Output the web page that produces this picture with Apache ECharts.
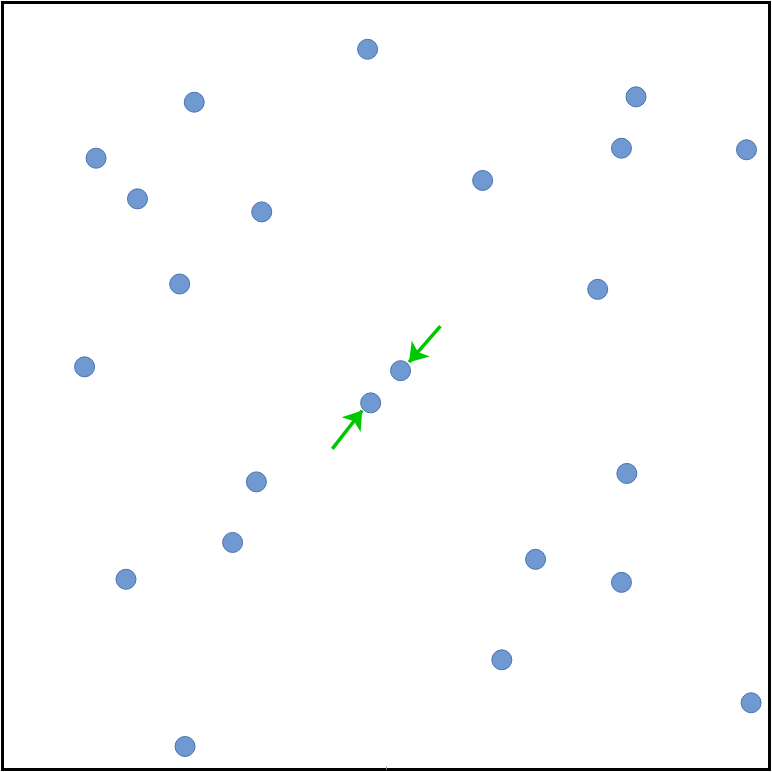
<!DOCTYPE html>
<html>
<head>
<meta charset="utf-8">
<style>html,body{margin:0;padding:0;background:#fff;}#c{width:772px;height:772px;}</style>
<script src="https://cdn.jsdelivr.net/npm/echarts@6/dist/echarts.min.js"></script>
</head>
<body>
<div id="c"></div>
<script>
// point coordinates in unit square (x right, y up)
const xs = [0.476,0.250,0.826,0.122,0.807,0.970,0.626,0.176,0.338,0.231,0.776,0.107,0.519,0.480,0.814,0.331,0.300,0.695,0.161,0.807,0.651,0.976,0.238];
const ys = [0.939,0.870,0.877,0.797,0.810,0.808,0.768,0.744,0.727,0.633,0.626,0.525,0.520,0.478,0.386,0.375,0.296,0.274,0.248,0.244,0.143,0.087,0.030];
// arrows: [startX, startY, endX, endY]
const arrowA = [0.571, 0.578, 0.530, 0.531];
const arrowB = [0.430, 0.418, 0.469, 0.468];

const chart = echarts.init(document.getElementById('c'));
chart.setOption({
  animation: false,
  grid: {left: 2.5, top: 2.5, width: 767, height: 767, show: true, borderColor: '#000', borderWidth: 3, backgroundColor: '#fff'},
  xAxis: {type: 'value', min: 0, max: 1, interval: 0.5, splitLine: {show: false}, axisLine: {show: false},
          axisLabel: {show: false}, axisTick: {show: true, customValues: [0.5], inside: true, length: 3, lineStyle: {color: '#999', width: 1}}},
  yAxis: {type: 'value', min: 0, max: 1, splitLine: {show: false}, axisLine: {show: false}, axisLabel: {show: false}, axisTick: {show: false}},
  series: [
    {
      type: 'scatter',
      symbolSize: 20,
      itemStyle: {color: '#6f99d0', borderColor: '#4a72ae', borderWidth: 1, opacity: 1},
      data: xs.map((x, i) => [x, ys[i]])
    },
    {
      type: 'lines',
      coordinateSystem: 'cartesian2d',
      symbol: ['none', 'arrow'],
      symbolSize: 18,
      lineStyle: {color: '#00c800', width: 3.5, opacity: 1},
      data: [arrowA, arrowB].map(a => ({coords: [[a[0], a[1]], [a[2], a[3]]]}))
    }
  ]
});
</script>
</body>
</html>
